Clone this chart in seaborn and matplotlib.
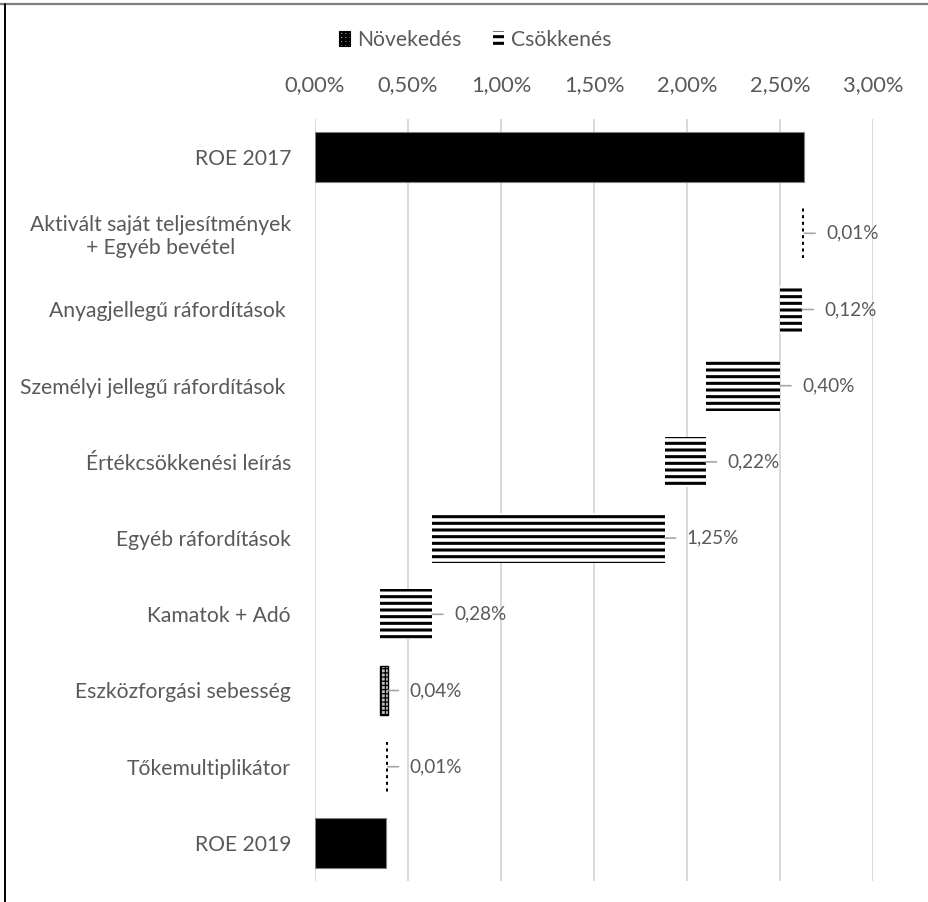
import matplotlib
matplotlib.use("Agg")
import matplotlib.pyplot as plt
from matplotlib.patches import Patch
from matplotlib.lines import Line2D
from matplotlib.ticker import FuncFormatter
import seaborn as sns

# ROE bridge 2017 -> 2019 (values in percentage points)
categories = [
    "ROE 2017",
    "Aktivált saját teljesítmények\n+ Egyéb bevétel",
    "Anyagjellegű ráfordítások ",
    "Személyi jellegű ráfordítások ",
    "Értékcsökkenési leírás",
    "Egyéb ráfordítások",
    "Kamatok + Adó",
    "Eszközforgási sebesség",
    "Tőkemultiplikátor",
    "ROE 2019",
]
values = [2.63, 0.01, 0.12, 0.40, 0.22, 1.25, 0.28, 0.04, 0.01, 0.38]
kinds = ["total", "dec", "dec", "dec", "dec", "dec", "dec", "inc", "dec", "total"]
x_ticks = [0.0, 0.5, 1.0, 1.5, 2.0, 2.5, 3.0]
legend_labels = ["Növekedés", "Csökkenés"]

# running total -> left edge of each floating bar
lefts = []
running = 0.0
for v, k in zip(values, kinds):
    if k == "total":
        lefts.append(0.0)
        running = v
    elif k == "dec":
        running -= v
        lefts.append(running)
    else:
        lefts.append(running)
        running += v

TEXT = "#595959"
DPI = 200
sns.set_theme(style="white")
plt.rcParams["font.family"] = ["Lato", "DejaVu Sans"]
plt.rcParams["hatch.linewidth"] = 1.1

fig = plt.figure(figsize=(929 / DPI, 902 / DPI), dpi=DPI)
ax = fig.add_axes([315 / 929, 1 - 881 / 902, (873 - 315) / 929, (881 - 119) / 902])

sns.barplot(x=values, y=categories, orient="h", color="black",
            width=0.655, errorbar=None, ax=ax, zorder=2)

HATCH_DEC = "-----"
HATCH_INC = "++++++++"
for patch, left, kind in zip(ax.patches, lefts, kinds):
    patch.set_x(left)
    if kind == "total":
        patch.set_facecolor("black")
        patch.set_edgecolor("#7f7f7f")
        patch.set_linewidth(0.4)
    elif kind == "dec":
        patch.set_facecolor("white")
        patch.set_edgecolor("black")
        patch.set_linewidth(0)
        patch.set_hatch(HATCH_DEC)
    else:
        patch.set_facecolor("#bdbdbd")
        patch.set_edgecolor("black")
        patch.set_linewidth(0.5)
        patch.set_hatch(HATCH_INC)
        if hasattr(patch, "set_hatch_linewidth"):
            patch.set_hatch_linewidth(0.45)

# value labels with short leader lines
for i, (v, left, kind) in enumerate(zip(values, lefts, kinds)):
    if kind == "total":
        continue
    end = left + v
    label = f"{v:.2f}".replace(".", ",") + "%"
    ax.annotate(label, xy=(end, i), xytext=(22 * 72 / DPI, 0),
                textcoords="offset points", ha="left", va="center",
                fontsize=6.8, color=TEXT,
                arrowprops=dict(arrowstyle="-", color="#a6a6a6", lw=0.6,
                                shrinkA=1.8, shrinkB=0, relpos=(0, 0.5)))

ax.set_xlim(0, 3.0)
ax.set_xticks(x_ticks)
ax.xaxis.set_major_formatter(FuncFormatter(lambda v, _: f"{v:.2f}".replace(".", ",") + "%"))
ax.xaxis.tick_top()
ax.tick_params(axis="x", length=0, pad=8.6, labelsize=7.9, labelcolor=TEXT)
ax.tick_params(axis="y", length=0, pad=8.6, labelsize=7.6, labelcolor=TEXT)
for lab in ax.get_yticklabels():
    lab.set_multialignment("center")
ax.set_xlabel("")
ax.set_ylabel("")
ax.grid(axis="x", color="#d9d9d9", linewidth=0.7, zorder=0)
ax.grid(axis="y", visible=False)
ax.set_axisbelow(True)
for s in ax.spines.values():
    s.set_visible(False)

handles = [
    Patch(facecolor="#bdbdbd", edgecolor="black", linewidth=0.4, hatch=HATCH_INC),
    Patch(facecolor="white", edgecolor="black", linewidth=0, hatch=HATCH_DEC),
]
if hasattr(handles[0], "set_hatch_linewidth"):
    handles[0].set_hatch_linewidth(0.45)
leg = fig.legend(handles, legend_labels, loc="center", bbox_to_anchor=(475 / 929, 1 - 40 / 902),
                 ncol=2, frameon=False, fontsize=7.6, handlelength=0.55, handleheight=0.7,
                 handletextpad=0.3, columnspacing=1.5, labelcolor=TEXT)

# chart frame: grey top edge, black left edge
fig.add_artist(Line2D([0, 1], [1 - 4 / 902, 1 - 4 / 902], transform=fig.transFigure,
                      color="#7f7f7f", linewidth=0.8))
fig.add_artist(Line2D([5 / 929, 5 / 929], [0, 1 - 4 / 902], transform=fig.transFigure,
                      color="black", linewidth=0.7))

fig.savefig("out.png", dpi=DPI)
